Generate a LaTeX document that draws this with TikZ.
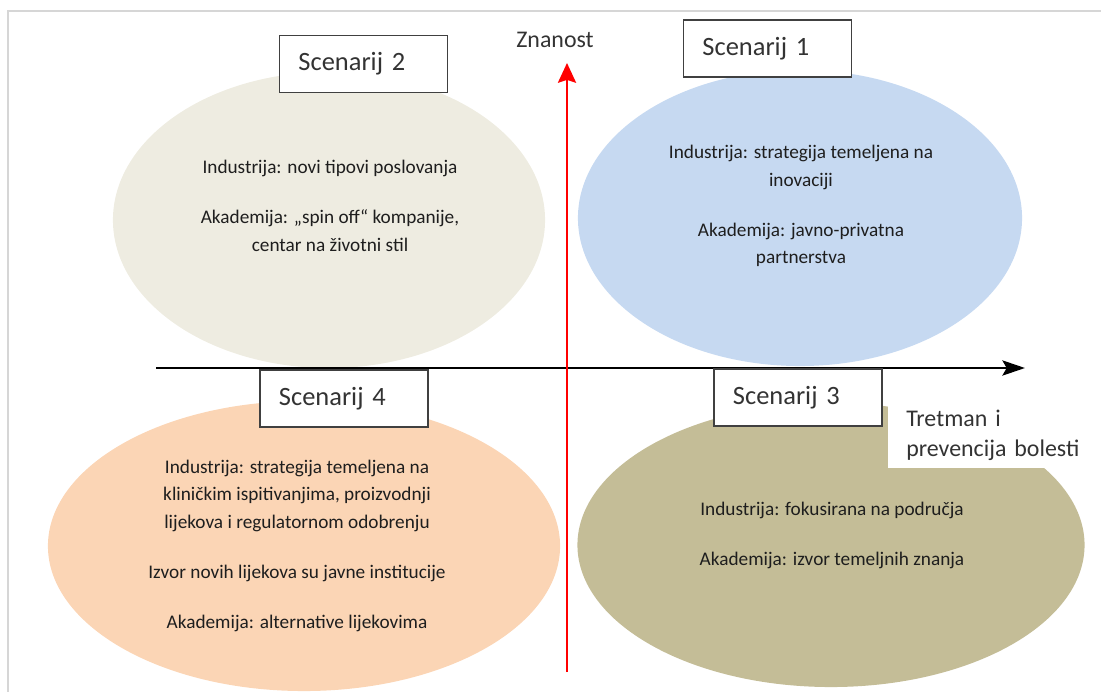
\documentclass[tikz,border=0pt]{standalone}
\usepackage{fontspec}
\setmainfont{Carlito}
\usepackage{xcolor}
\usepackage{tikz}
\usetikzlibrary{positioning, shapes.geometric, arrows.meta}
\definecolor{tanLight}{RGB}{238,236,225}
\definecolor{blueLight}{RGB}{198,217,241}
\definecolor{peachLight}{RGB}{251,213,181}
\definecolor{oliveDark}{RGB}{196,189,151}
\definecolor{frameGray}{RGB}{214,214,214}
\definecolor{txtColor}{RGB}{30,30,30}
\tikzset{
    blob/.style={
        ellipse,
        draw=none,
        inner sep=0pt
    },
    blobtext/.style={
        align=center,
        text=txtColor,
        inner sep=0pt,
        font=\fontsize{13.7}{19.6}\selectfont
    },
    scenbox/.style={
        rectangle,
        draw=black!75,
        line width=1pt,
        fill=white,
        minimum height=1.425cm,
        text width=3.25cm,
        inner xsep=0.475cm,
        align=left,
        text=black!80,
        font=\fontsize{18.8}{22}\selectfont
    },
    axislbl/.style={
        text=black!80,
        font=\fontsize{17}{21.3}\selectfont
    },
    axisArrow/.style={
        -{Stealth[length=16pt, width=10.7pt, inset=3pt]},
        line width=2.1pt
    }
}

\begin{document}
\begin{tikzpicture}[x=0.025cm, y=-0.025cm]
    \useasboundingbox (0,0) rectangle (1101,692);

    % okvir
    \coordinate (frTL) at (8,11);
    \draw[frameGray, line width=1.4pt] (1101,11) -- (frTL) -- (8,692);

    % scenariji (elipse)
    \node[blob, fill=tanLight, minimum width=10.8cm, minimum height=7.4cm] (elTwo) at (329,220) {};
    \node[blob, fill=blueLight, minimum width=11.1cm, minimum height=7.4cm] (elOne) at (800,218) {};
    \node[blob, fill=peachLight, minimum width=12.8cm, minimum height=7.25cm] (elFour) at (304,546) {};
    \node[blob, fill=oliveDark, minimum width=12.675cm, minimum height=7.1cm] (elThree) at (831,545) {};

    \node[blobtext] (txTwo) at (330,206) {Industrija: novi tipovi poslovanja\\[16pt]
        Akademija: „spin off“ kompanije,\\ centar na životni stil};
    \node[blobtext] (txOne) at (801,206) {Industrija: strategija temeljena na\\ inovaciji\\[16pt]
        Akademija: javno-privatna\\ partnerstva};
    \node[blobtext] (txFour) at (297,546) {Industrija: strategija temeljena na\\
        kliničkim ispitivanjima, proizvodnji\\ lijekova i regulatornom odobrenju\\[16pt]
        Izvor novih lijekova su javne institucije\\[16pt]
        Akademija: alternative lijekovima};
    \node[blobtext] (txThree) at (832,535) {Industrija: fokusirana na područja\\[16pt]
        Akademija: izvor temeljnih znanja};

    % osi
    \coordinate (hStart) at (156,368);
    \coordinate (hEnd) at (1025,368);
    \draw[axisArrow] (hStart) -- (hEnd);
    \coordinate (vStart) at (567,672);
    \coordinate (vEnd) at (567,63);
    \draw[red, line width=1.8pt, -{Stealth[length=14pt, width=12.8pt, inset=2pt]}] (vStart) -- (vEnd);
    \node[axislbl] (znanost) at (555,40) {Znanost};

    % oznake scenarija
    \node[scenbox] (scTwo) at (363.5,64) {Scenarij 2};
    \node[scenbox] (scOne) at (767.5,48.5) {Scenarij 1};
    \node[scenbox] (scFour) at (344,398.5) {Scenarij 4};
    \node[scenbox] (scThree) at (798,397.5) {Scenarij 3};

    \node[axislbl, fill=white, anchor=north west, text width=4.6cm, inner xsep=0.45cm,
        inner ysep=5pt, align=left] (tretman) at (888,403) {Tretman i\\ prevencija bolesti};
\end{tikzpicture}
\end{document}
